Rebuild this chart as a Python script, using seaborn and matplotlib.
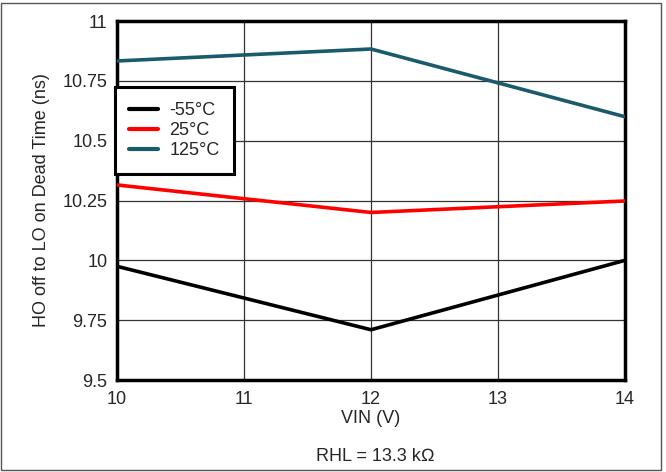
import pandas as pd
import matplotlib.pyplot as plt
import seaborn as sns
from matplotlib.patches import Rectangle

# data
vin = [10, 12, 14]
temps = ['-55°C', '25°C', '125°C']
dead_m55 = [9.975, 9.71, 10.0]
dead_25 = [10.315, 10.2, 10.248]
dead_125 = [10.833, 10.883, 10.6]

df = pd.DataFrame({
    'VIN': vin * 3,
    'Dead': dead_m55 + dead_25 + dead_125,
    'Temp': [temps[0]] * 3 + [temps[1]] * 3 + [temps[2]] * 3,
})

sns.set_style('white')
plt.rcParams['font.family'] = ['Liberation Sans', 'DejaVu Sans']

fig = plt.figure(figsize=(6.66, 4.72), dpi=100)
ax = fig.add_axes([0.1757, 0.1949, 0.7627, 0.7606])

palette = {'-55°C': '#000000', '25°C': '#ff0000', '125°C': '#1a5a6a'}
sns.lineplot(data=df, x='VIN', y='Dead', hue='Temp', palette=palette,
             linewidth=2.6, ax=ax, zorder=3)

ax.set_xlim(10, 14)
ax.set_ylim(9.5, 11)
ax.set_xticks([10, 11, 12, 13, 14])
ax.set_yticks([9.5, 9.75, 10, 10.25, 10.5, 10.75, 11])
ax.set_yticklabels(['9.5', '9.75', '10', '10.25', '10.5', '10.75', '11'])
ax.tick_params(axis='y', labelsize=13, length=0, pad=7)
ax.tick_params(axis='x', labelsize=13, length=0, pad=8)
ax.grid(True, color='#333333', linewidth=0.9)
ax.set_axisbelow(True)
for s in ax.spines.values():
    s.set_linewidth(2.5)
    s.set_color('black')

ax.set_xlabel('VIN (V)', fontsize=13, labelpad=1)
ax.set_ylabel('HO off to LO on Dead Time (ns)', fontsize=13, labelpad=9)

leg = ax.legend(loc='upper left', bbox_to_anchor=(-0.004, 0.815), fontsize=13,
                fancybox=False, framealpha=1, edgecolor='black', borderpad=0.8,
                handlelength=1.6, handletextpad=0.6, labelspacing=0.18,
                borderaxespad=0)
leg.get_frame().set_linewidth(2.2)
for line in leg.get_lines():
    line.set_linewidth(3)

fig.text(0.563, 0.032, 'RHL = 13.3 k\u2126', fontsize=13, ha='center', va='center')
fig.patches.append(Rectangle((0.002, 0.004), 0.99, 0.989, transform=fig.transFigure,
                             fill=False, edgecolor='#555555', linewidth=1))

plt.savefig('out.png', dpi=100)
